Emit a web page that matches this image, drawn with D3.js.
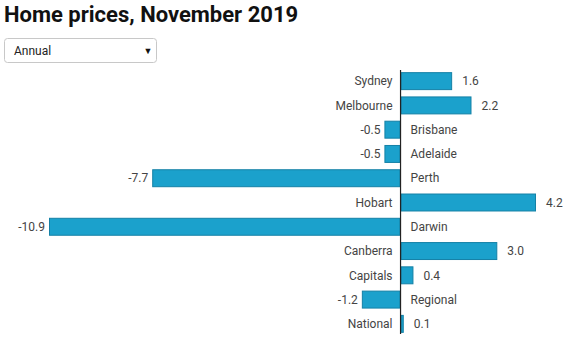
<!DOCTYPE html>
<html><head><meta charset="utf-8">
<script src="https://cdn.jsdelivr.net/npm/d3@7/dist/d3.min.js"></script>
<style>
body{margin:0;background:#fff;font-family:Roboto,"Noto Sans",sans-serif;}
svg{display:block}
</style></head><body>
<svg id="c" width="565" height="338"></svg>
<script>
const categories = ["Sydney","Melbourne","Brisbane","Adelaide","Perth","Hobart","Darwin","Canberra","Capitals","Regional","National"];
const values = [1.6,2.2,-0.5,-0.5,-7.7,4.2,-10.9,3.0,0.4,-1.2,0.1];
const title = "Home prices, November 2019";
const dropdownLabel = "Annual";

const svg = d3.select("#c");
svg.append("text").attr("x",4).attr("y",22).attr("font-size",22).attr("font-weight",700)
  .attr("fill","#111").text(title);

// dropdown
const dd = svg.append("g");
dd.append("rect").attr("x",4.5).attr("y",38.5).attr("width",152).attr("height",24).attr("rx",3)
  .attr("fill","#fff").attr("stroke","#c8c8c8");
dd.append("text").attr("x",14).attr("y",54.5).attr("font-size",12).attr("fill","#222").text(dropdownLabel);
dd.append("text").attr("x",148).attr("y",54).attr("font-size",9).attr("text-anchor","middle").attr("fill","#111").text("▼");

const x = d3.scaleLinear().domain([-10.9,4.2]).range([49,536]);
const y = d3.scaleBand().domain(categories).range([69,336]).paddingInner(0.26).paddingOuter(0.13);
const data = categories.map((c,i)=>({c, v: values[i]}));

svg.append("g").selectAll("rect").data(data).join("rect")
  .attr("x", d=>x(Math.min(0,d.v))+0.5)
  .attr("y", d=>y(d.c)+0.5)
  .attr("width", d=>Math.abs(x(d.v)-x(0))-1)
  .attr("height", y.bandwidth()-1)
  .attr("fill","#1ba1cc").attr("stroke","#1481a6").attr("stroke-width",1);

svg.append("line").attr("x1",x(0)).attr("x2",x(0)).attr("y1",70).attr("y2",334)
  .attr("stroke","#222").attr("stroke-width",1.2);

const lbl = svg.append("g").attr("font-size",12).attr("fill","#444");
data.forEach(d=>{
  const cy = y(d.c)+y.bandwidth()/2+4.2;
  const t = d.v.toFixed(1);
  if(d.v>=0){
    lbl.append("text").attr("x",x(0)-8).attr("y",cy).attr("text-anchor","end").text(d.c);
    lbl.append("text").attr("x",x(d.v)+10).attr("y",cy).text(t);
  } else {
    lbl.append("text").attr("x",x(0)+10).attr("y",cy).text(d.c);
    lbl.append("text").attr("x",x(d.v)-4).attr("y",cy).attr("text-anchor","end").text(t);
  }
});
</script></body></html>
